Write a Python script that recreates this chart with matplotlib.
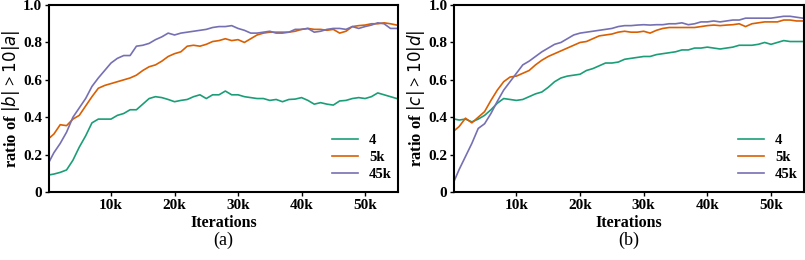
import matplotlib
matplotlib.use("Agg")
import matplotlib.pyplot as plt
import numpy as np

plt.rcParams['font.family'] = ['Liberation Serif', 'DejaVu Serif']
plt.rcParams['mathtext.fontset'] = 'dejavusans'

# iterations in thousands
iters_a = list(range(0, 56))
iters_b = [0.3] + list(range(1, 56))

# panel (a)
a_4 = [0.09, 0.096, 0.105, 0.118, 0.17, 0.24, 0.30, 0.37, 0.39, 0.39,
       0.39, 0.41, 0.42, 0.44, 0.44, 0.47, 0.50, 0.51, 0.505, 0.495,
       0.483, 0.49, 0.495, 0.51, 0.52, 0.50, 0.52, 0.52, 0.54, 0.52,
       0.52, 0.51, 0.505, 0.50, 0.50, 0.49, 0.495, 0.483, 0.495, 0.497,
       0.505, 0.49, 0.47, 0.478, 0.47, 0.465, 0.487, 0.49, 0.50, 0.505,
       0.50, 0.51, 0.53, 0.52, 0.51, 0.50]
a_5k = [0.28, 0.31, 0.36, 0.355, 0.39, 0.41, 0.46, 0.51, 0.555, 0.57,
        0.58, 0.59, 0.60, 0.61, 0.625, 0.65, 0.67, 0.68, 0.70, 0.725,
        0.74, 0.75, 0.78, 0.785, 0.78, 0.79, 0.805, 0.81, 0.82, 0.81,
        0.815, 0.80, 0.82, 0.84, 0.85, 0.855, 0.855, 0.855, 0.855, 0.86,
        0.87, 0.875, 0.87, 0.87, 0.865, 0.87, 0.85, 0.86, 0.885, 0.89,
        0.893, 0.90, 0.90, 0.905, 0.90, 0.893]
a_45k = [0.145, 0.21, 0.26, 0.32, 0.40, 0.45, 0.50, 0.565, 0.61, 0.65,
         0.69, 0.715, 0.73, 0.73, 0.78, 0.785, 0.795, 0.815, 0.83, 0.85,
         0.84, 0.85, 0.855, 0.86, 0.865, 0.87, 0.88, 0.885, 0.885, 0.89,
         0.875, 0.865, 0.85, 0.85, 0.855, 0.86, 0.85, 0.85, 0.855, 0.87,
         0.87, 0.875, 0.855, 0.86, 0.87, 0.875, 0.875, 0.87, 0.885, 0.875,
         0.885, 0.893, 0.905, 0.90, 0.875, 0.875]

# panel (b)
b_4 = [0.39, 0.385, 0.39, 0.375, 0.39, 0.41, 0.44, 0.475, 0.50, 0.495,
       0.49, 0.495, 0.51, 0.525, 0.535, 0.56, 0.59, 0.61, 0.62, 0.625,
       0.63, 0.65, 0.66, 0.675, 0.69, 0.69, 0.695, 0.71, 0.715, 0.72,
       0.725, 0.725, 0.735, 0.74, 0.745, 0.75, 0.76, 0.76, 0.77, 0.77,
       0.775, 0.77, 0.765, 0.77, 0.775, 0.785, 0.785, 0.785, 0.79, 0.80,
       0.79, 0.80, 0.81, 0.805, 0.805, 0.805]
b_5k = [0.33, 0.35, 0.395, 0.37, 0.40, 0.43, 0.49, 0.545, 0.59, 0.615,
        0.62, 0.635, 0.65, 0.68, 0.705, 0.725, 0.74, 0.755, 0.77, 0.785,
        0.80, 0.805, 0.82, 0.835, 0.84, 0.845, 0.855, 0.86, 0.855, 0.855,
        0.86, 0.85, 0.865, 0.875, 0.88, 0.88, 0.88, 0.88, 0.88, 0.885,
        0.89, 0.893, 0.89, 0.893, 0.895, 0.90, 0.885, 0.90, 0.905, 0.91,
        0.91, 0.91, 0.92, 0.92, 0.915, 0.915]
b_45k = [0.065, 0.12, 0.19, 0.26, 0.34, 0.365, 0.42, 0.485, 0.545, 0.59,
         0.635, 0.68, 0.70, 0.725, 0.75, 0.77, 0.79, 0.80, 0.82, 0.84,
         0.85, 0.855, 0.86, 0.865, 0.87, 0.875, 0.885, 0.89, 0.89, 0.893,
         0.895, 0.893, 0.895, 0.895, 0.90, 0.90, 0.905, 0.895, 0.90, 0.91,
         0.91, 0.915, 0.91, 0.915, 0.92, 0.92, 0.93, 0.93, 0.93, 0.93,
         0.93, 0.935, 0.94, 0.94, 0.935, 0.93]

labels = ['4', '5k', '45k']
colors = ['#1b9e77', '#d95f02', '#7570b3']
xticks = [10, 20, 30, 40, 50]
xticklabels = ['10k', '20k', '30k', '40k', '50k']
yticks = [0, 0.2, 0.4, 0.6, 0.8, 1.0]
yticklabels = ['0', '0.2', '0.4', '0.6', '0.8', '1.0']

fig = plt.figure(figsize=(8.05, 2.6), dpi=100)
ax1 = fig.add_axes([0.061, 0.2615, 0.4335, 0.719])
ax2 = fig.add_axes([0.5644, 0.2615, 0.4345, 0.719])

panels = [
    (ax1, iters_a, [a_4, a_5k, a_45k], r'ratio of $|b|$ > $10|a|$', '(a)'),
    (ax2, iters_b, [b_4, b_5k, b_45k], r'ratio of $|c|$ > $10|d|$', '(b)'),
]

for ax, xs, series, ylab, tag in panels:
    for ys, lab, c in zip(series, labels, colors):
        ax.plot(xs, ys, color=c, linewidth=1.2, label=lab)
    ax.set_xlim(0.25, 55.2)
    ax.set_ylim(0, 1.0)
    ax.set_xticks(xticks)
    ax.set_xticklabels(xticklabels, fontsize=11, fontweight='bold')
    ax.set_yticks(yticks)
    ax.set_yticklabels(yticklabels, fontsize=11, fontweight='bold')
    ax.tick_params(direction='out', length=3, width=1, pad=2)
    for s in ax.spines.values():
        s.set_linewidth(1.5)
    ax.set_xlabel('Iterations', fontsize=11.5, fontweight='bold', labelpad=2)
    ax.set_ylabel(ylab, fontsize=12, fontweight='bold', labelpad=1)
    ax.legend(loc='lower right', frameon=False, handlelength=1.8,
              handletextpad=0.75, labelspacing=0.25,
              prop={'weight': 'bold', 'size': 10.5},
              bbox_to_anchor=(1.02, -0.01))
    ax.text(0.5, -0.257, tag, transform=ax.transAxes, ha='center',
            va='center', fontsize=13)

fig.savefig('out.png', dpi=100)
